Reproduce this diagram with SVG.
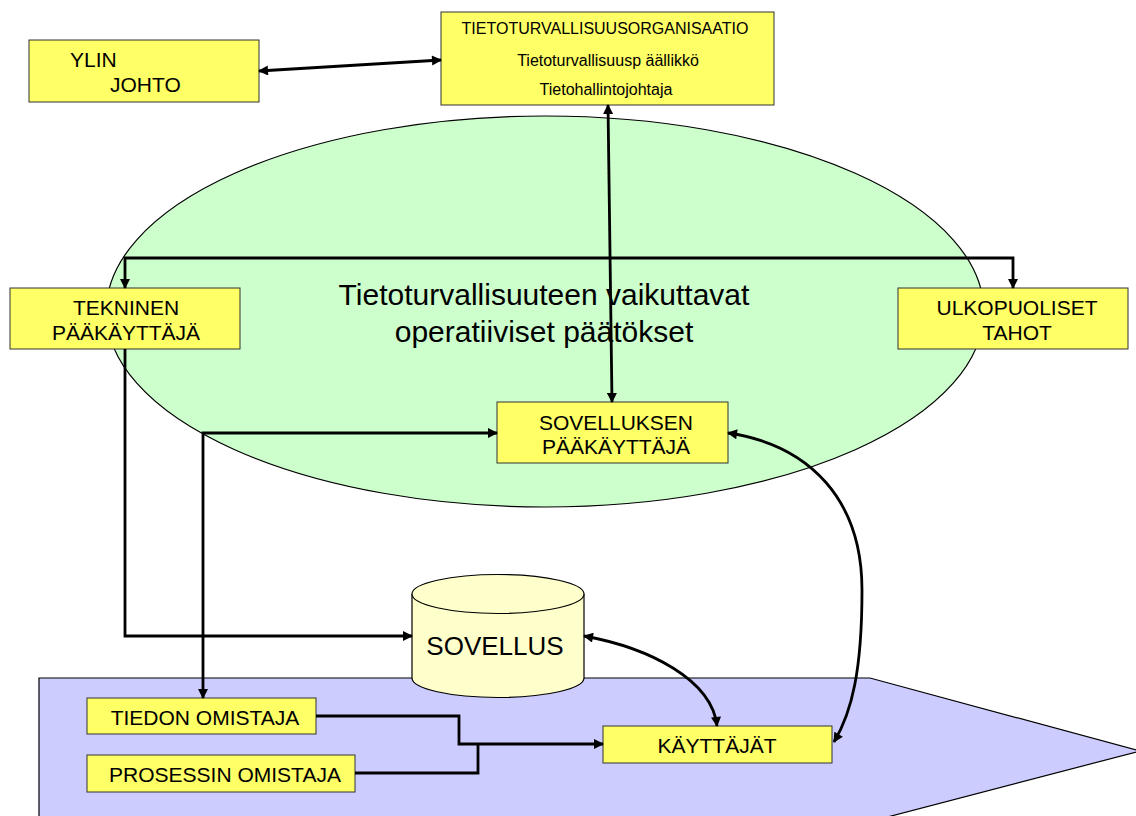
<svg xmlns="http://www.w3.org/2000/svg" width="1136" height="816" viewBox="0 0 1136 816">
<style>
.box{fill:#FFFF66;stroke:#333;stroke-width:1}
.lbl{font-family:"Liberation Sans",Arial,sans-serif;font-size:21px;fill:#000;text-anchor:middle}
.sm{font-family:"Liberation Sans",Arial,sans-serif;font-size:16px;fill:#000;text-anchor:middle}
.con{fill:none;stroke:#000;stroke-width:2.8}
</style>
<defs>
<marker id="ah" viewBox="0 0 10 10" refX="9" refY="5" markerWidth="11" markerHeight="10" markerUnits="userSpaceOnUse" orient="auto-start-reverse">
<path d="M0,0 L10,5 L0,10 z" fill="#000"/>
</marker>
</defs>
<rect width="1136" height="816" fill="#fff"/>
<g id="bg">
<polygon points="39,678 870,678 1140,751 876,820 39,820" fill="#CCCCFF" stroke="#000" stroke-width="1.2"/>
<ellipse cx="545" cy="311.5" rx="438.8" ry="195.5" fill="#CCFFCC" stroke="#000" stroke-width="1.2"/>
<text x="544" y="305" font-family="Liberation Sans,Arial,sans-serif" font-size="30" text-anchor="middle">Tietoturvallisuuteen vaikuttavat</text>
<text x="544" y="342" font-family="Liberation Sans,Arial,sans-serif" font-size="30" text-anchor="middle">operatiiviset päätökset</text>
</g>
<g id="ylin">
<rect class="box" x="29" y="40" width="230" height="62"/>
<text class="lbl" x="70" y="67" text-anchor="start" style="text-anchor:start">YLIN</text>
<text class="lbl" x="110" y="92" style="text-anchor:start">JOHTO</text>
</g>
<g id="tieto">
<rect class="box" x="441" y="12" width="333" height="93"/>
<text class="sm" x="605" y="34">TIETOTURVALLISUUSORGANISAATIO</text>
<text class="sm" x="608" y="66">Tietoturvallisuusp äällikkö</text>
<text class="sm" x="606" y="95">Tietohallintojohtaja</text>
</g>
<g id="tekninen">
<rect class="box" x="10" y="288" width="230" height="61"/>
<text class="lbl" x="126" y="315">TEKNINEN</text>
<text class="lbl" x="126" y="340">PÄÄKÄYTTÄJÄ</text>
</g>
<g id="ulko">
<rect class="box" x="898" y="288" width="230" height="61"/>
<text class="lbl" x="1017" y="315">ULKOPUOLISET</text>
<text class="lbl" x="1017" y="340">TAHOT</text>
</g>
<g id="sovpaa">
<rect class="box" x="497" y="402" width="231" height="61"/>
<text class="lbl" x="616" y="430">SOVELLUKSEN</text>
<text class="lbl" x="616" y="454">PÄÄKÄYTTÄJÄ</text>
</g>
<g id="sovellus">
<path d="M412,594 V678 A86,19.5 0 0 0 584,678 V594" fill="#FFFFCC" stroke="#000" stroke-width="1.2"/>
<ellipse cx="498" cy="594" rx="86" ry="19.5" fill="#FFFFCC" stroke="#000" stroke-width="1.2"/>
<text x="495" y="655" font-family="Liberation Sans,Arial,sans-serif" font-size="26" text-anchor="middle">SOVELLUS</text>
</g>
<g id="tiedon">
<rect class="box" x="87" y="698" width="229" height="36"/>
<text class="lbl" x="205" y="725">TIEDON OMISTAJA</text>
</g>
<g id="prosessin">
<rect class="box" x="87" y="755" width="268" height="37"/>
<text class="lbl" x="225" y="782">PROSESSIN OMISTAJA</text>
</g>
<g id="kayttajat">
<rect class="box" x="603" y="726" width="229" height="37"/>
<text class="lbl" x="717" y="753">KÄYTTÄJÄT</text>
</g>
<g id="connectors">
<path class="con" d="M259,71 L441,60" marker-start="url(#ah)" marker-end="url(#ah)"/>
<path class="con" d="M608,105 L612,402" marker-start="url(#ah)" marker-end="url(#ah)"/>
<path class="con" d="M125,288 V258 H1013 V288" marker-start="url(#ah)" marker-end="url(#ah)"/>
<path class="con" d="M125,349 V636 H412" marker-end="url(#ah)"/>
<path class="con" d="M497,433 H203 V698" marker-start="url(#ah)" marker-end="url(#ah)"/>
<path class="con" d="M584,636 C650,648 712,680 717,726" marker-start="url(#ah)" marker-end="url(#ah)"/>
<path class="con" d="M728,433 C810,445 862,500 862,590 C862,670 852,712 834,742" marker-start="url(#ah)" marker-end="url(#ah)"/>
<path class="con" d="M316,716 H459 V744 H603" marker-end="url(#ah)"/>
<path class="con" d="M355,773 H478 V744"/>
</g>
</svg>
